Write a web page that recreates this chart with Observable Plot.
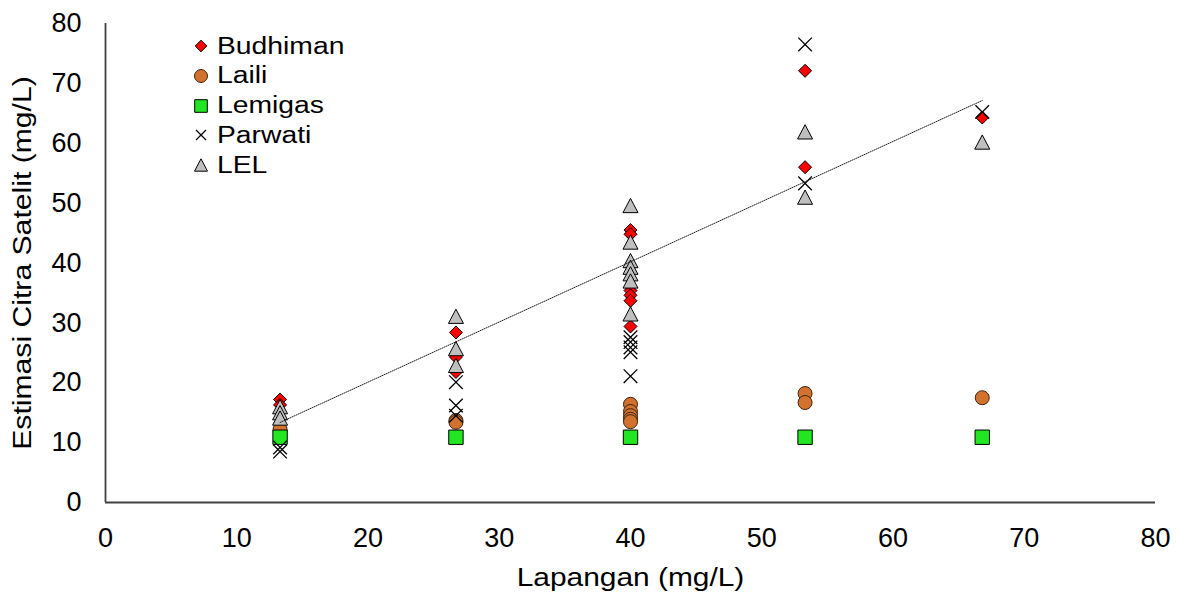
<!DOCTYPE html>
<html><head><meta charset="utf-8">
<script src="https://cdn.jsdelivr.net/npm/d3@7"></script>
<script src="https://cdn.jsdelivr.net/npm/@observablehq/plot@0.6"></script>
<style>
body{margin:0;background:#fff;font-family:"Liberation Sans",Arial,sans-serif}
#chart{position:relative;width:1177px;height:596px}
.lg{position:absolute;font-size:23px;line-height:23px;color:#000;white-space:nowrap;transform-origin:0 50%;transform:scaleX(1.23)}
.lm{position:absolute;width:20px;height:20px}
</style>
</head><body><div id="chart"></div>
<script>
// ---- data ----
const seriesNames = ["Budhiman", "Laili", "Lemigas", "Parwati", "LEL"];
const budhimanX = [13.3, 13.3, 26.7, 26.7, 26.7, 40, 40, 40, 40, 40, 40, 53.3, 53.3, 66.8];
const budhimanY = [17.2, 16.3, 28.4, 24.3, 21.8, 45.5, 44.8, 35.4, 34.6, 33.7, 29.4, 72.1, 56.0, 64.3];
const lailiX = [13.3, 26.7, 26.7, 40, 40, 40, 40, 40, 53.3, 53.3, 66.8];
const lailiY = [12.2, 13.7, 13.4, 16.4, 15.2, 14.5, 13.9, 13.5, 18.2, 16.7, 17.5];
const lemigasX = [13.3, 26.7, 40, 53.3, 66.8];
const lemigasY = [10.9, 10.9, 10.9, 10.9, 10.9];
const parwatiX = [13.3, 13.3, 26.7, 26.7, 26.7, 40, 40, 40, 40, 40, 53.3, 53.3, 66.8];
const parwatiY = [9.2, 8.5, 20.1, 16.2, 14.5, 27.6, 26.8, 25.9, 25.1, 21.1, 76.5, 53.3, 65.2];
const lelX = [13.3, 13.3, 13.3, 26.7, 26.7, 26.7, 40, 40, 40, 40, 40, 40, 40, 53.3, 53.3, 66.8];
const lelY = [16.0, 15.0, 14.1, 31.1, 25.7, 22.9, 49.6, 43.5, 40.4, 39.3, 38.2, 37.0, 31.5, 61.9, 51.0, 60.2];
const trendSlope = 1.005;
const trendIntercept = 0.0;
const xTicks = [0, 10, 20, 30, 40, 50, 60, 70, 80];
const yTicks = [0, 10, 20, 30, 40, 50, 60, 70, 80];
const xLabel = "Lapangan (mg/L)";
const yLabel = "Estimasi Citra Satelit (mg/L)";

// ---- symbols (r = half size) ----
const R = s => Math.sqrt(s / Math.PI);
const symDiamond = {draw(c, s){const r = R(s); c.moveTo(0,-r); c.lineTo(r,0); c.lineTo(0,r); c.lineTo(-r,0); c.closePath();}};
const symCircle = {draw(c, s){const r = R(s); c.moveTo(r,0); c.arc(0,0,r,0,2*Math.PI); c.closePath();}};
const symSquare = {draw(c, s){const r = R(s); c.rect(-r,-r,2*r,2*r);}};
const symTimes = {draw(c, s){const r = R(s); c.moveTo(-r,-r); c.lineTo(r,r); c.moveTo(r,-r); c.lineTo(-r,r);}};
const symTriangle = {draw(c, s){const r = R(s); c.moveTo(0,-0.95*r); c.lineTo(r,0.95*r); c.lineTo(-r,0.95*r); c.closePath();}};

const styles = [
  {sym: symDiamond, r: 6.5, fill: "#FF0000", stroke: "#000", sw: 1, lr: 5.8},
  {sym: symCircle, r: 7, fill: "#D2722E", stroke: "#3a2410", sw: 1, lr: 6.5},
  {sym: symSquare, r: 7.2, fill: "#22E622", stroke: "#000", sw: 1, lr: 6.3},
  {sym: symTimes, r: 6.8, fill: "none", stroke: "#000", sw: 1.3, lr: 5},
  {sym: symTriangle, r: 7.5, fill: "#BFBFBF", stroke: "#000", sw: 1, lr: 6.5}
];
const seriesX = [budhimanX, lailiX, lemigasX, parwatiX, lelX];
const seriesY = [budhimanY, lailiY, lemigasY, parwatiY, lelY];
const series = seriesX.map((xs, i) => xs.map((x, j) => ({x, y: seriesY[i][j]})));

const allX = seriesX.flat();
const trend = [d3.min(allX), d3.max(allX)].map(x => ({x, y: trendSlope * x + trendIntercept}));

const dots = series.map((data, i) => {
  const st = styles[i];
  return Plot.dot(data, {x: "x", y: "y", symbol: st.sym, r: st.r, fill: st.fill, stroke: st.stroke, strokeWidth: st.sw});
});

const svg = Plot.plot({
  width: 1177, height: 596,
  marginLeft: 105, marginRight: 22, marginTop: 23, marginBottom: 94,
  style: {fontFamily: "'Liberation Sans', Arial, sans-serif", fontSize: "27px", color: "#000", background: "#fff"},
  x: {domain: [0, 80]},
  y: {domain: [0, 80]},
  marks: [
    Plot.axisX({ticks: xTicks, tickSize: 0, tickPadding: 25, label: null, tickFormat: d => String(d), fill: "#000"}),
    Plot.axisY({ticks: yTicks, tickSize: 0, tickPadding: 24, label: null, tickFormat: d => String(d), fill: "#000"}),
    ...dots,
    Plot.line(trend, {x: "x", y: "y", stroke: "#222", strokeWidth: 1, strokeDasharray: "1,1.2"}),
    Plot.ruleY([0], {stroke: "#404040", strokeWidth: 1.8}),
    Plot.ruleX([0], {stroke: "#404040", strokeWidth: 1.8}),
    Plot.text([xLabel], {text: d => d, frameAnchor: "bottom", textAnchor: "middle", lineAnchor: "middle", dy: 75, fontSize: 26, fill: "#000"}),
    Plot.text([yLabel], {text: d => d, frameAnchor: "left", textAnchor: "middle", lineAnchor: "middle", dx: -83, rotate: -90, fontSize: 26, fill: "#000"})
  ]
});

// widen the axis titles (the source font is wider than Arial)
svg.querySelectorAll("text").forEach(t => {
  if (t.textContent === xLabel || t.textContent === yLabel) {
    const k = t.textContent === xLabel ? 1.15 : 1.16;
    const tr = t.getAttribute("transform");
    if (tr) t.setAttribute("transform", tr + ` scale(${k},1)`);
    else {
      const x = +t.getAttribute("x") || 0, y = +t.getAttribute("y") || 0;
      t.removeAttribute("x"); t.removeAttribute("y");
      t.setAttribute("transform", `translate(${x},${y}) scale(${k},1)`);
    }
  }
});

const chart = document.getElementById("chart");
chart.appendChild(svg);

// legend overlay
const rowY0 = 45.7, rowStep = 29.9, markX = 200.7, textX = 216.5;
seriesNames.forEach((name, i) => {
  const st = styles[i];
  const cy = rowY0 + i * rowStep;
  const m = document.createElementNS("http://www.w3.org/2000/svg", "svg");
  m.setAttribute("class", "lm");
  m.setAttribute("width", 20); m.setAttribute("height", 20);
  m.style.left = (markX - 10) + "px"; m.style.top = (cy - 10) + "px";
  const p = d3.path();
  st.sym.draw(p, Math.PI * st.lr * st.lr);
  const path = document.createElementNS("http://www.w3.org/2000/svg", "path");
  path.setAttribute("d", p.toString());
  path.setAttribute("transform", "translate(10,10)");
  path.setAttribute("fill", st.fill);
  path.setAttribute("stroke", st.stroke);
  path.setAttribute("stroke-width", st.sw);
  m.appendChild(path);
  chart.appendChild(m);
  const t = document.createElement("div");
  t.className = "lg";
  t.textContent = name;
  t.style.left = textX + "px";
  t.style.top = (cy - 11.2) + "px";
  chart.appendChild(t);
});
</script>
</body></html>
